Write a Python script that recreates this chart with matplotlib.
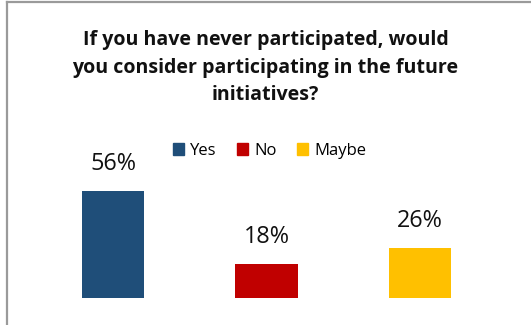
import matplotlib.pyplot as plt
from matplotlib.patches import Rectangle

answers = ['Yes', 'No', 'Maybe']
shares = [56, 18, 26]
colors = ['#1F4E79', '#C00000', '#FFC000']
title = 'If you have never participated, would\nyou consider participating in the future\ninitiatives?'

W, H = 531, 325
fig = plt.figure(figsize=(W / 100, H / 100), dpi=100)
plt.rcParams['font.family'] = ['Open Sans', 'DejaVu Sans']

# plot area in pixels: bars sit on y=298 (from top)
left, right = 36.25, 496.75
base = H - 298
px_per_pct = 107 / 56
ax = fig.add_axes([left / W, base / H, (right - left) / W, 60 * px_per_pct / H])
ax.set_xlim(-0.5, 2.5)
ax.set_ylim(0, 60)
ax.axis('off')

xs = range(len(answers))
bars = ax.bar(xs, shares, width=0.404, color=colors)
for x, v in zip(xs, shares):
    ax.annotate(f'{v}%', (x, v), xytext=(0, 27), textcoords='offset pixels',
                ha='center', va='center', fontsize=16.8, color='#111111')

fig.text(265.5 / W, 1 - 68 / H, title, ha='center', va='center',
         fontsize=14.1, fontweight='bold', linespacing=1.5, color='#111111')

handles = [Rectangle((0, 0), 1, 1, color=c) for c in colors]
fig.legend(handles, answers, loc='center', bbox_to_anchor=(269.5 / W, 1 - 151 / H),
           ncol=3, frameon=False, fontsize=12, handlelength=0.7, handleheight=0.7,
           handletextpad=0.35, columnspacing=1.2)

# chart border (left and top edges only)
fig.add_artist(plt.Line2D([6.5 / W, 6.5 / W], [0, 1 - 1.5 / H], color='#9a9a9a', lw=1.6,
                          transform=fig.transFigure))
fig.add_artist(plt.Line2D([6.5 / W, 1], [1 - 1.5 / H, 1 - 1.5 / H], color='#9a9a9a', lw=1.6,
                          transform=fig.transFigure))

fig.savefig('out.png', dpi=100, facecolor='white')
